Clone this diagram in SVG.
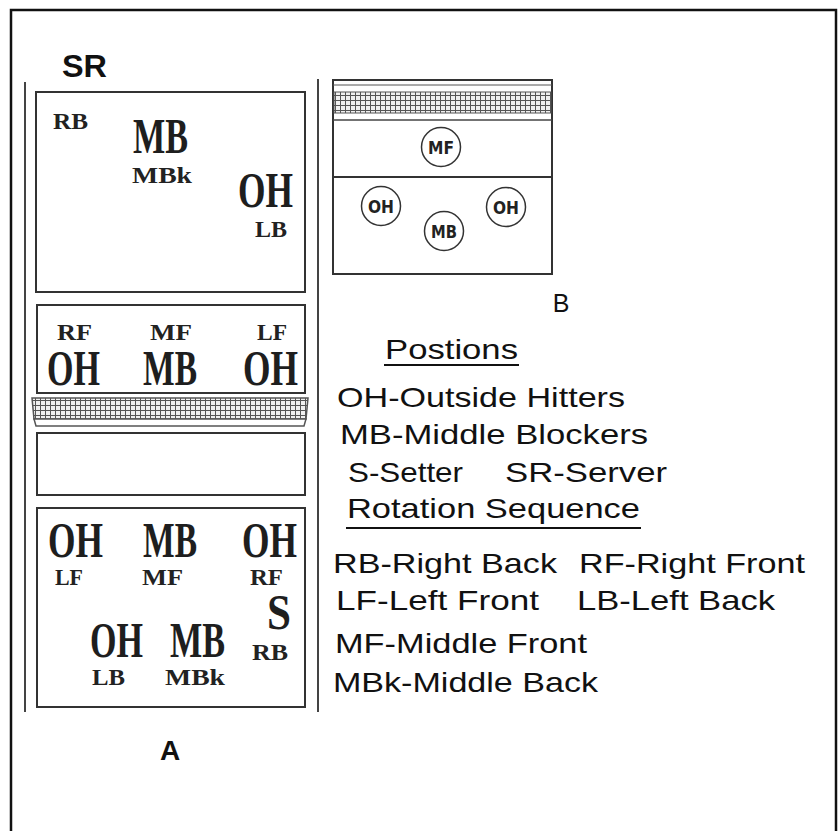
<svg xmlns="http://www.w3.org/2000/svg" width="840" height="831" viewBox="0 0 840 831">
<defs>
<pattern id="mesh" width="5" height="5" patternUnits="userSpaceOnUse">
<rect width="5" height="5" fill="#f0f0f0"/>
<path d="M0 0.5H5M0.5 0V5" stroke="#555" stroke-width="1"/>
</pattern>
<style>
.ln{stroke:#444;stroke-width:2;fill:none}
.bx{stroke:#333;stroke-width:2;fill:#fff}
.big{font-family:"Liberation Serif",serif;font-weight:bold;font-size:51px;fill:#1e1e1e}
.sm{font-family:"Liberation Serif",serif;font-weight:bold;font-size:24px;fill:#222}
.lg{font-family:"Liberation Sans",Arial,sans-serif;font-size:28px;fill:#111}
.cl{font-family:"DejaVu Sans",sans-serif;font-weight:bold;font-size:18px;fill:#222}
.ci{stroke:#333;stroke-width:1.5;fill:#fff}
</style>
</defs>
<rect x="0" y="0" width="840" height="831" fill="#fff"/>
<rect x="11" y="10" width="825" height="840" fill="none" stroke="#111" stroke-width="2.5"/>

<g id="title-sr"><text x="62" y="77" font-family="Liberation Sans,Arial,sans-serif" font-weight="bold" font-size="31" textLength="45" lengthAdjust="spacingAndGlyphs" fill="#111">SR</text></g>

<g id="diagram-a">
<line class="ln" x1="25" y1="82" x2="25" y2="712"/>
<line class="ln" x1="318" y1="79" x2="318" y2="712"/>

<g id="a-back-court">
<rect class="bx" x="36" y="92" width="269" height="200"/>
<text class="sm" x="53" y="129" textLength="35" lengthAdjust="spacingAndGlyphs">RB</text>
<text class="big" x="133" y="153" textLength="55" lengthAdjust="spacingAndGlyphs">MB</text>
<text class="sm" x="132" y="183" textLength="60" lengthAdjust="spacingAndGlyphs">MBk</text>
<text class="big" x="238" y="207" textLength="55" lengthAdjust="spacingAndGlyphs">OH</text>
<text class="sm" x="255" y="237" textLength="32" lengthAdjust="spacingAndGlyphs">LB</text>
</g>

<g id="a-front-row">
<rect class="bx" x="37" y="305" width="268" height="88"/>
<text class="sm" x="57" y="340" textLength="35" lengthAdjust="spacingAndGlyphs">RF</text>
<text class="sm" x="150" y="340" textLength="42" lengthAdjust="spacingAndGlyphs">MF</text>
<text class="sm" x="257" y="340" textLength="30" lengthAdjust="spacingAndGlyphs">LF</text>
<text class="big" x="47" y="385" textLength="53" lengthAdjust="spacingAndGlyphs">OH</text>
<text class="big" x="143" y="385" textLength="54" lengthAdjust="spacingAndGlyphs">MB</text>
<text class="big" x="243" y="385" textLength="55" lengthAdjust="spacingAndGlyphs">OH</text>
</g>

<g id="a-net">
<polygon points="32,398 308,398 306,419 34,419" fill="url(#mesh)" stroke="#555" stroke-width="1.5"/>
<polygon points="34,419 306,419 304,426 36,426" fill="#fff" stroke="#555" stroke-width="1.5"/>
</g>

<g id="a-empty-court">
<rect class="bx" x="37" y="433" width="268" height="62"/>
</g>

<g id="a-other-court">
<rect class="bx" x="37" y="508" width="268" height="199"/>
<text class="big" x="48" y="557" textLength="55" lengthAdjust="spacingAndGlyphs">OH</text>
<text class="big" x="143" y="557" textLength="54" lengthAdjust="spacingAndGlyphs">MB</text>
<text class="big" x="242" y="557" textLength="55" lengthAdjust="spacingAndGlyphs">OH</text>
<text class="sm" x="55" y="585" textLength="28" lengthAdjust="spacingAndGlyphs">LF</text>
<text class="sm" x="142" y="585" textLength="41" lengthAdjust="spacingAndGlyphs">MF</text>
<text class="sm" x="250" y="585" textLength="33" lengthAdjust="spacingAndGlyphs">RF</text>
<text class="big" x="267" y="629" textLength="24" lengthAdjust="spacingAndGlyphs">S</text>
<text class="sm" x="252" y="660" textLength="36" lengthAdjust="spacingAndGlyphs">RB</text>
<text class="big" x="90" y="657" textLength="53" lengthAdjust="spacingAndGlyphs">OH</text>
<text class="big" x="170" y="657" textLength="55" lengthAdjust="spacingAndGlyphs">MB</text>
<text class="sm" x="92" y="685" textLength="33" lengthAdjust="spacingAndGlyphs">LB</text>
<text class="sm" x="165" y="685" textLength="60" lengthAdjust="spacingAndGlyphs">MBk</text>
</g>

<text x="170" y="760" text-anchor="middle" font-family="Liberation Sans,Arial,sans-serif" font-weight="bold" font-size="28" fill="#111">A</text>
</g>

<g id="diagram-b">
<rect class="bx" x="333" y="80" width="219" height="194"/>
<line x1="333" y1="85" x2="552" y2="85" stroke="#555" stroke-width="1"/>
<rect x="334" y="92" width="217" height="21" fill="url(#mesh)" stroke="#555" stroke-width="1"/>
<line x1="333" y1="120" x2="552" y2="120" stroke="#444" stroke-width="1.5"/>
<line x1="333" y1="177" x2="552" y2="177" stroke="#333" stroke-width="2"/>
<g id="b-mf"><circle class="ci" cx="441" cy="147" r="19.5"/><text class="cl" x="441" y="154" text-anchor="middle" textLength="26" lengthAdjust="spacingAndGlyphs">MF</text></g>
<g id="b-oh-left"><circle class="ci" cx="381" cy="206" r="19.5"/><text class="cl" x="381" y="213" text-anchor="middle" textLength="26" lengthAdjust="spacingAndGlyphs">OH</text></g>
<g id="b-mb"><circle class="ci" cx="444" cy="231" r="19.5"/><text class="cl" x="444" y="238" text-anchor="middle" textLength="26" lengthAdjust="spacingAndGlyphs">MB</text></g>
<g id="b-oh-right"><circle class="ci" cx="506" cy="207" r="19.5"/><text class="cl" x="506" y="214" text-anchor="middle" textLength="26" lengthAdjust="spacingAndGlyphs">OH</text></g>
<text x="561" y="312" text-anchor="middle" font-family="Liberation Sans,Arial,sans-serif" font-size="25" fill="#111">B</text>
</g>

<g id="legend">
<text class="lg" x="385" y="359" textLength="133" lengthAdjust="spacingAndGlyphs">Postions</text>
<line x1="384" y1="365" x2="519" y2="365" stroke="#111" stroke-width="2"/>
<text class="lg" x="337" y="407" textLength="288" lengthAdjust="spacingAndGlyphs">OH-Outside Hitters</text>
<text class="lg" x="340" y="444" textLength="308" lengthAdjust="spacingAndGlyphs">MB-Middle Blockers</text>
<text class="lg" x="348" y="482" textLength="115" lengthAdjust="spacingAndGlyphs">S-Setter</text>
<text class="lg" x="505" y="482" textLength="162" lengthAdjust="spacingAndGlyphs">SR-Server</text>
<text class="lg" x="347" y="518" textLength="293" lengthAdjust="spacingAndGlyphs">Rotation Sequence</text>
<line x1="346" y1="528" x2="641" y2="528" stroke="#111" stroke-width="2"/>
<text class="lg" x="333" y="573" textLength="224" lengthAdjust="spacingAndGlyphs">RB-Right Back</text>
<text class="lg" x="579" y="573" textLength="226" lengthAdjust="spacingAndGlyphs">RF-Right Front</text>
<text class="lg" x="336" y="610" textLength="203" lengthAdjust="spacingAndGlyphs">LF-Left Front</text>
<text class="lg" x="577" y="610" textLength="198" lengthAdjust="spacingAndGlyphs">LB-Left Back</text>
<text class="lg" x="335" y="653" textLength="252" lengthAdjust="spacingAndGlyphs">MF-Middle Front</text>
<text class="lg" x="333" y="692" textLength="265" lengthAdjust="spacingAndGlyphs">MBk-Middle Back</text>
</g>
</svg>
